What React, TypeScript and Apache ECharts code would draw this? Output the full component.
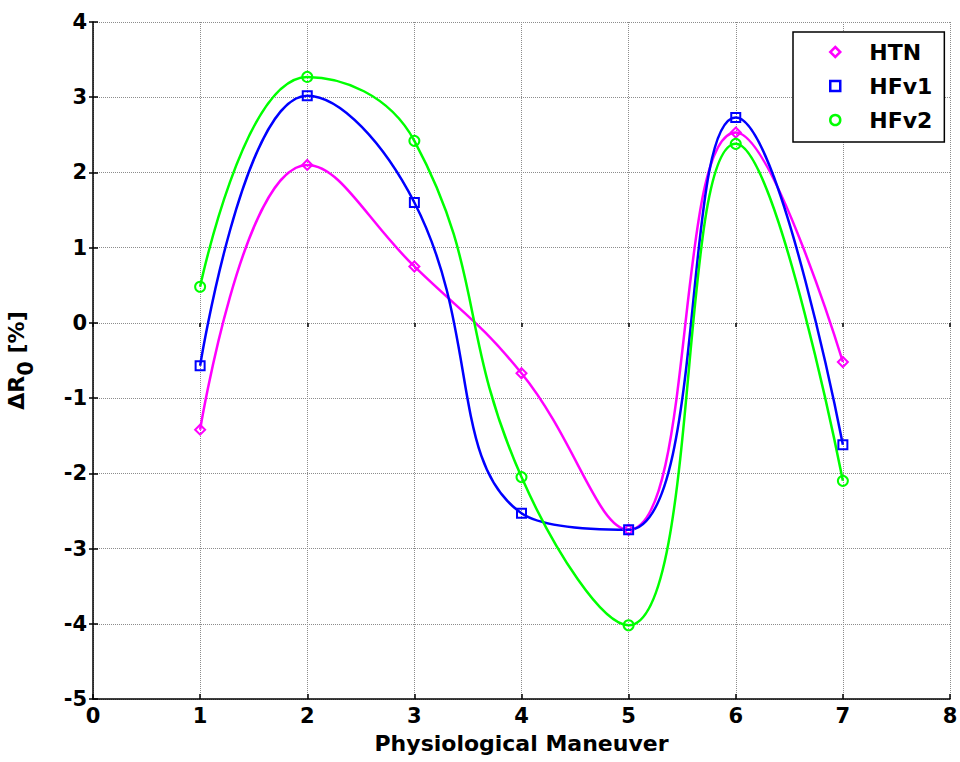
import React, { useEffect, useRef } from "react";
import * as echarts from "echarts";

const maneuvers = [1, 2, 3, 4, 5, 6, 7];
const htn = [-1.42, 2.1, 0.75, -0.67, -2.75, 2.53, -0.52];
const hfv1 = [-0.57, 3.02, 1.6, -2.53, -2.75, 2.73, -1.62];
const hfv2 = [0.48, 3.27, 2.42, -2.05, -4.02, 2.38, -2.1];

const seriesDefs = [
  { name: "HTN", values: htn, color: "#ff00ff", symbol: "diamond", size: 10 },
  { name: "HFv1", values: hfv1, color: "#0000ff", symbol: "rect", size: 9 },
  { name: "HFv2", values: hfv2, color: "#00ff00", symbol: "circle", size: 10 },
];

const FONT = "'DejaVu Sans', 'Liberation Sans', Arial, sans-serif";

export default function App() {
  const ref = useRef<HTMLDivElement>(null);
  useEffect(() => {
    if (!ref.current) return;
    const chart = echarts.init(ref.current, undefined, { renderer: "svg" });
    const gridLine = { show: true, lineStyle: { color: "#8c8c8c", type: [1, 1] as any, width: 1 } };
    chart.setOption({
      animation: false,
      backgroundColor: "#ffffff",
      grid: { left: 93, right: 10, top: 22, bottom: 63, containLabel: false, outerBoundsMode: "none" },
      legend: {
        left: 793,
        top: 32,
        orient: "vertical",
        backgroundColor: "#ffffff",
        borderColor: "#000000",
        borderWidth: 1.5,
        padding: [8, 12, 10, 36],
        itemGap: 10,
        itemWidth: 10,
        itemHeight: 10,
        textStyle: {
          fontFamily: FONT,
          fontWeight: "bold",
          fontSize: 22,
          color: "#000",
          lineHeight: 24,
          padding: [0, 0, 0, 24],
        },
        data: seriesDefs.map((s) => ({
          name: s.name,
          icon: s.symbol,
          itemStyle: { color: "#ffffff", borderColor: s.color, borderWidth: 2.5 },
        })),
      },
      xAxis: [
        {
          type: "value",
          min: 0,
          max: 8,
          interval: 1,
          name: "Physiological Maneuver",
          nameLocation: "middle",
          nameGap: 33,
          nameTextStyle: { fontFamily: FONT, fontWeight: "bold", fontSize: 22, color: "#000" },
          axisLine: { show: true, onZero: false, lineStyle: { color: "#000", width: 1.5 } },
          axisTick: { show: true, inside: true, length: 5, lineStyle: { color: "#000", width: 1.5 } },
          axisLabel: { fontFamily: FONT, fontWeight: "bold", fontSize: 21, color: "#000", margin: 6 },
          splitLine: gridLine,
        },
        {
          type: "value",
          position: "top",
          min: 0,
          max: 8,
          interval: 1,
          axisLine: { show: false },
          axisTick: { show: true, inside: true, length: 4, lineStyle: { color: "#000", width: 1.5 } },
          axisLabel: { show: false },
          splitLine: { show: false },
        },
      ],
      yAxis: [
        {
          type: "value",
          min: -5,
          max: 4,
          interval: 1,
          name: "ΔR{sub|0} [%]",
          nameLocation: "middle",
          nameGap: 57,
          nameRotate: 90,
          nameTextStyle: {
            fontFamily: FONT,
            fontWeight: "bold",
            fontSize: 22,
            color: "#000",
            rich: {
              sub: {
                fontFamily: FONT,
                fontWeight: "bold",
                fontSize: 21,
                color: "#000",
                padding: [18, 0, 0, 0],
              },
            },
          },
          axisLine: { show: true, onZero: false, lineStyle: { color: "#000", width: 1.5 } },
          axisTick: { show: true, inside: true, length: 5, lineStyle: { color: "#000", width: 1.5 } },
          axisLabel: { fontFamily: FONT, fontWeight: "bold", fontSize: 21, color: "#000", margin: 6 },
          splitLine: gridLine,
        },
        {
          type: "value",
          position: "right",
          min: -5,
          max: 4,
          interval: 1,
          axisLine: { show: false },
          axisTick: { show: true, inside: true, length: 4, lineStyle: { color: "#000", width: 1.5 } },
          axisLabel: { show: false },
          splitLine: { show: false },
        },
      ],
      series: seriesDefs.map((s) => ({
        name: s.name,
        type: "line",
        smooth: 0.45,
        data: maneuvers.map((m, i) => [m, s.values[i]]),
        symbol: s.symbol,
        symbolSize: s.size,
        showAllSymbol: true,
        lineStyle: { color: s.color, width: 2.5 },
        itemStyle: { color: "rgba(255,255,255,0)", borderColor: s.color, borderWidth: 2 },
        emphasis: { disabled: true },
        z: 3,
      })),
    });
    return () => chart.dispose();
  }, []);
  return <div ref={ref} style={{ width: 960, height: 762, position: "absolute", left: 0, top: 0 }} />;
}
